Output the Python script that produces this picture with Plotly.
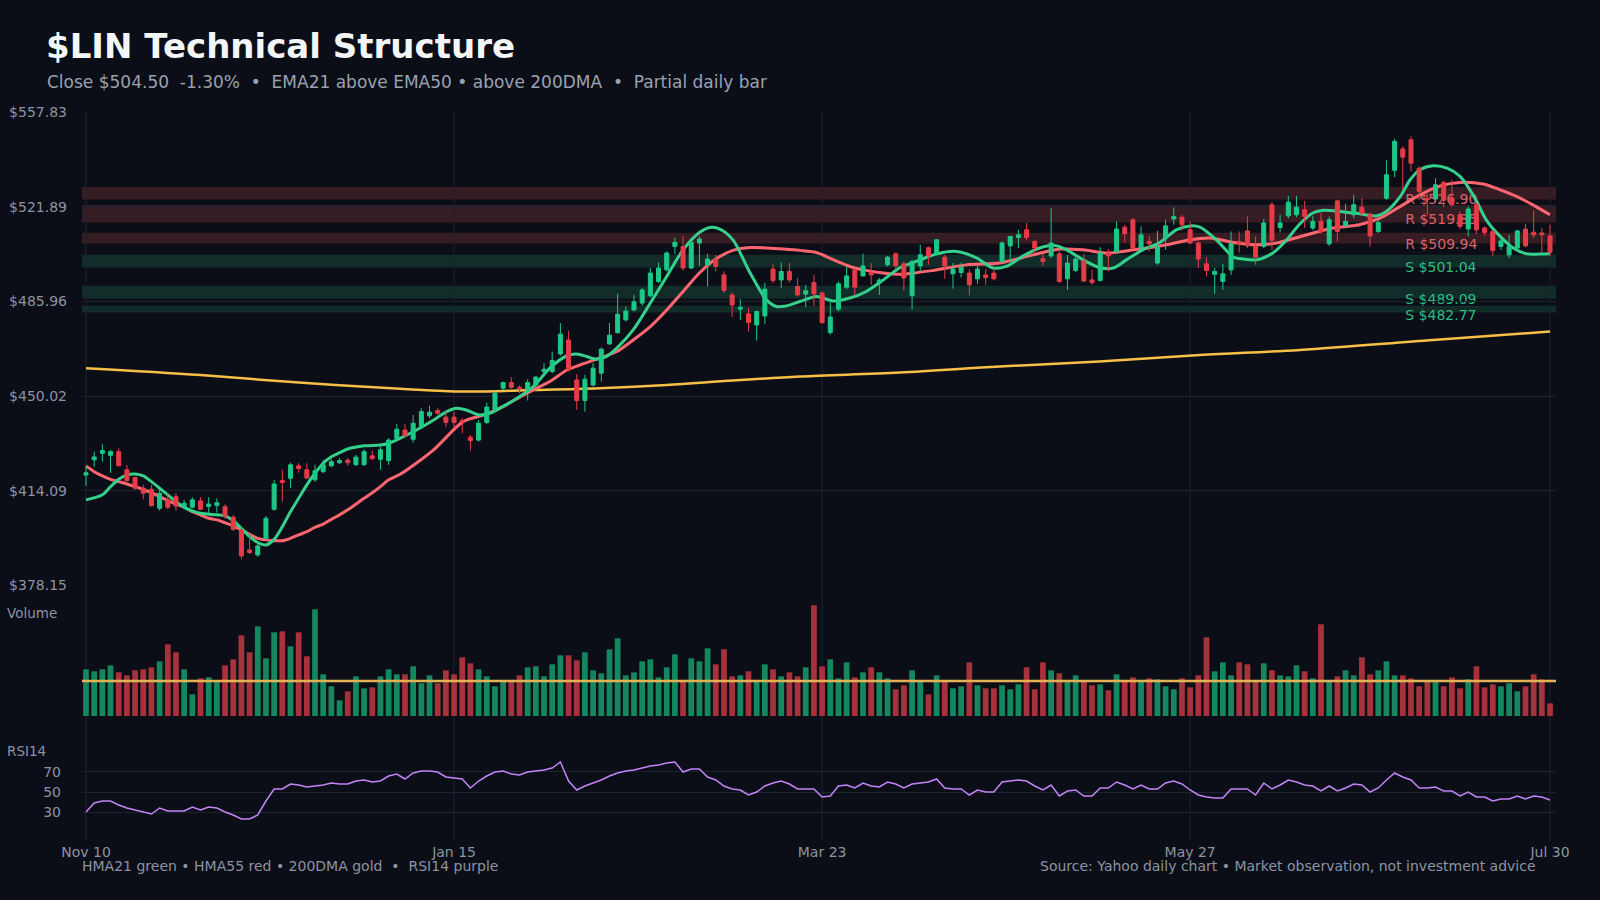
import plotly.graph_objects as go

# ---------------- data ----------------
x_tick_labels = ["Nov 10", "Jan 15", "Mar 23", "May 27", "Jul 30"]
x_tick_index = [0, 45, 90, 135, 179]

price_ticks = [378.15, 414.09, 450.02, 485.96, 521.89, 557.83]
price_tick_text = ["$378.15", "$414.09", "$450.02", "$485.96", "$521.89", "$557.83"]

opens = [420.0, 425.8, 428.3, 427.5, 428.9, 422.0, 419.1, 415.0, 414.6, 407.4,
         410.6, 411.8, 407.8, 407.8, 410.2, 408.1, 408.5, 408.0, 404.0, 399.2,
         391.6, 389.7, 396.0, 407.0, 417.9, 418.8, 423.5, 422.0, 418.2, 421.3,
         423.5, 424.7, 425.7, 423.9, 423.9, 427.3, 426.0, 425.5, 434.0, 437.1,
         433.6, 438.4, 442.5, 444.5, 442.0, 442.0, 440.7, 434.4, 433.3, 440.0,
         445.0, 453.0, 455.1, 453.3, 452.3, 454.2, 459.3, 459.3, 466.0, 471.3,
         456.1, 448.3, 454.2, 458.7, 469.8, 474.1, 478.9, 482.7, 485.3, 488.1,
         493.5, 497.9, 506.8, 506.8, 498.6, 508.1, 499.8, 502.0, 496.0, 488.4,
         483.0, 481.2, 477.0, 480.4, 498.2, 494.1, 497.3, 491.6, 488.7, 493.1,
         489.1, 474.1, 483.0, 491.3, 497.9, 495.6, 496.9, 492.9, 499.8, 504.0,
         500.2, 488.1, 499.4, 506.3, 504.0, 502.7, 496.4, 496.9, 496.7, 494.5,
         496.0, 496.7, 501.1, 507.0, 510.2, 513.1, 508.7, 502.1, 503.2, 504.0,
         494.5, 497.7, 501.3, 494.1, 493.9, 504.3, 504.9, 514.1, 516.9, 506.2,
         508.7, 500.5, 510.0, 517.2, 517.9, 513.1, 508.1, 500.2, 496.2, 493.5,
         497.9, 508.7, 512.7, 506.8, 506.8, 522.6, 514.0, 518.4, 518.8, 520.7,
         513.8, 516.4, 507.8, 524.1, 514.6, 518.8, 521.7, 518.8, 512.5, 525.1,
         535.7, 543.8, 547.3, 536.5, 525.1, 524.8, 531.1, 525.1, 518.8, 513.4,
         522.6, 513.8, 512.5, 506.8, 503.6, 506.2, 513.4, 512.2, 511.9, 510.8]
highs = [423.2, 428.9, 431.8, 429.6, 430.2, 423.9, 419.4, 416.3, 416.3, 414.4,
         413.1, 413.1, 410.6, 411.6, 411.6, 411.6, 411.2, 408.9, 404.9, 400.4,
         397.9, 394.1, 404.5, 418.2, 422.0, 424.7, 424.5, 424.5, 423.9, 425.8,
         426.0, 426.4, 426.4, 427.7, 429.8, 429.3, 430.8, 434.0, 439.4, 439.4,
         442.8, 445.4, 446.3, 445.4, 444.1, 444.1, 441.6, 435.2, 440.9, 447.5,
         451.7, 455.5, 457.2, 454.1, 456.4, 457.7, 462.5, 466.9, 477.7, 474.8,
         458.4, 458.0, 462.5, 468.5, 477.7, 488.8, 484.0, 488.4, 491.0, 498.6,
         500.7, 504.9, 510.1, 510.8, 509.1, 510.6, 504.0, 503.6, 497.3, 489.3,
         486.8, 483.4, 482.5, 492.9, 500.2, 500.7, 500.5, 494.8, 492.2, 496.0,
         489.7, 485.9, 493.5, 499.2, 498.6, 504.0, 500.5, 494.8, 503.2, 504.5,
         501.1, 501.7, 507.4, 506.8, 509.6, 503.6, 500.5, 500.7, 498.2, 499.4,
         498.2, 498.6, 508.7, 510.8, 513.1, 515.7, 509.3, 504.0, 521.3, 504.9,
         503.6, 503.2, 504.0, 497.9, 506.5, 505.8, 516.3, 515.0, 517.5, 514.4,
         510.8, 512.7, 516.9, 521.6, 518.8, 516.3, 508.7, 502.7, 498.6, 500.2,
         512.5, 512.5, 518.2, 510.6, 517.2, 523.5, 518.8, 526.0, 526.0, 524.1,
         518.4, 519.4, 518.2, 524.5, 523.0, 526.4, 525.1, 519.7, 516.9, 539.5,
         547.6, 544.8, 548.6, 537.2, 526.8, 532.7, 531.7, 532.1, 520.1, 522.0,
         523.3, 514.4, 512.9, 509.6, 511.2, 513.1, 515.4, 520.5, 513.8, 515.0]
lows = [415.9, 423.2, 425.1, 420.9, 423.2, 417.5, 414.4, 410.8, 408.0, 406.5,
        407.0, 406.5, 407.0, 407.4, 406.8, 405.5, 405.8, 403.6, 398.9, 388.0,
        390.0, 389.0, 395.4, 406.5, 409.9, 415.0, 420.9, 418.4, 417.5, 420.7,
        423.0, 424.2, 423.5, 423.5, 423.5, 425.7, 422.0, 423.9, 433.3, 434.6,
        432.3, 437.8, 441.6, 442.8, 438.2, 437.8, 435.9, 429.3, 432.7, 439.4,
        444.1, 452.3, 452.8, 451.1, 448.3, 453.3, 457.4, 458.7, 465.3, 459.3,
        444.7, 444.1, 453.6, 455.5, 469.4, 473.6, 478.3, 482.1, 484.3, 487.5,
        492.9, 497.3, 504.0, 497.7, 498.2, 499.4, 491.6, 497.3, 489.1, 480.0,
        478.9, 474.5, 471.1, 477.4, 492.9, 491.0, 493.1, 487.8, 483.7, 484.3,
        477.4, 473.3, 482.1, 490.6, 488.1, 495.4, 492.2, 488.4, 499.2, 497.9,
        490.1, 482.7, 497.3, 499.8, 503.6, 494.5, 490.8, 495.0, 488.2, 492.6,
        492.2, 493.9, 500.5, 501.1, 506.2, 509.1, 504.5, 499.4, 502.4, 492.9,
        490.3, 497.0, 493.2, 492.2, 493.5, 497.3, 504.3, 508.3, 505.8, 505.5,
        504.9, 499.8, 505.5, 515.0, 512.9, 507.8, 498.6, 495.4, 488.8, 490.3,
        496.0, 504.5, 506.2, 499.8, 506.2, 505.5, 512.1, 517.5, 517.9, 513.8,
        512.9, 511.6, 507.0, 508.7, 513.8, 517.5, 518.4, 506.8, 511.9, 524.5,
        533.1, 528.1, 535.3, 524.5, 518.8, 523.9, 521.7, 522.0, 513.4, 510.6,
        511.6, 510.8, 503.0, 505.5, 502.4, 505.3, 506.5, 510.0, 504.3, 503.0]
closes = [420.9, 426.9, 429.3, 428.9, 423.6, 417.9, 415.0, 413.1, 408.4, 413.1,
          407.8, 408.3, 409.3, 410.6, 407.0, 409.0, 409.5, 404.2, 399.4, 389.3,
          390.6, 393.1, 403.6, 416.6, 417.2, 423.9, 422.5, 418.9, 421.7, 423.9,
          425.1, 425.5, 424.7, 426.8, 428.9, 426.3, 429.6, 433.3, 437.4, 434.9,
          439.7, 444.1, 443.9, 443.5, 440.0, 440.0, 440.2, 433.1, 439.7, 445.8,
          451.1, 455.1, 453.3, 452.6, 455.1, 457.2, 460.2, 463.5, 473.5, 459.9,
          448.3, 456.4, 460.6, 467.8, 473.1, 481.1, 482.3, 485.8, 490.3, 496.7,
          498.6, 504.3, 508.4, 498.6, 508.3, 509.6, 502.0, 499.2, 490.1, 484.6,
          483.7, 477.9, 482.1, 490.6, 493.9, 497.3, 494.1, 488.4, 490.0, 488.8,
          477.9, 480.0, 492.6, 495.6, 491.3, 499.4, 496.0, 494.1, 502.7, 499.4,
          494.8, 501.1, 503.6, 503.2, 509.3, 499.4, 498.2, 498.9, 492.2, 498.2,
          495.0, 494.5, 508.1, 510.6, 511.2, 510.2, 506.2, 501.1, 508.1, 493.5,
          500.5, 502.0, 493.7, 493.1, 504.3, 503.2, 513.4, 511.6, 506.2, 511.2,
          507.8, 506.8, 514.6, 518.2, 515.0, 508.1, 502.0, 497.7, 497.3, 496.4,
          507.8, 507.8, 507.0, 502.7, 515.7, 509.1, 515.7, 523.6, 521.7, 518.2,
          516.3, 512.4, 516.9, 512.5, 516.3, 522.6, 519.4, 510.8, 515.9, 534.0,
          546.7, 540.7, 538.4, 527.7, 524.5, 530.2, 524.3, 522.6, 514.4, 521.0,
          513.1, 512.1, 505.3, 508.9, 506.8, 512.7, 507.0, 511.2, 511.2, 504.5]

volume_m = [2.80, 2.68, 2.80, 3.04, 2.62, 2.44, 2.74, 2.80, 2.92, 3.28,
            4.30, 3.82, 2.80, 1.30, 2.26, 2.32, 2.08, 3.04, 3.40, 4.84,
            3.82, 5.38, 3.46, 5.02, 5.08, 4.18, 5.02, 3.58, 6.40, 2.50,
            1.78, 0.94, 1.48, 2.38, 1.66, 1.72, 2.38, 2.80, 2.50, 2.50,
            2.98, 1.96, 2.44, 1.96, 2.74, 2.50, 3.52, 3.16, 2.80, 2.38,
            1.78, 2.08, 2.08, 2.44, 2.92, 2.98, 2.38, 3.10, 3.64, 3.64,
            3.34, 3.82, 2.74, 2.56, 4.00, 4.66, 2.44, 2.62, 3.28, 3.40,
            2.32, 2.92, 3.70, 2.04, 3.46, 3.28, 4.06, 3.10, 4.00, 2.38,
            2.44, 2.68, 2.08, 3.10, 2.80, 2.38, 2.62, 2.38, 2.92, 6.64,
            2.98, 3.40, 2.26, 3.22, 2.32, 2.62, 2.92, 2.62, 2.26, 1.60,
            1.84, 2.74, 2.04, 1.30, 2.44, 2.08, 1.66, 1.78, 3.22, 1.84,
            1.66, 1.66, 1.84, 1.60, 1.90, 2.92, 1.60, 3.22, 2.74, 2.56,
            2.08, 2.44, 2.08, 1.84, 1.90, 1.54, 2.50, 2.08, 2.32, 2.08,
            2.26, 2.20, 1.78, 1.60, 2.26, 1.72, 2.44, 4.72, 2.68, 3.22,
            2.44, 3.22, 3.10, 2.08, 3.16, 2.74, 2.44, 2.38, 3.04, 2.68,
            2.26, 5.50, 2.08, 2.38, 2.74, 2.44, 3.52, 2.50, 2.74, 3.28,
            2.44, 2.44, 2.26, 1.78, 2.08, 2.08, 1.78, 2.32, 1.66, 2.20,
            2.98, 1.72, 1.90, 1.78, 1.96, 1.48, 1.78, 2.50, 2.20, 0.76]
volume_avg_m = 2.1

rsi14 = [30, 39, 41, 41, 37, 34, 32, 30, 28, 34,
         31, 31, 31, 35, 32, 35, 34, 30, 27, 23,
         23, 27, 41, 53, 53, 58, 57, 55, 56, 57,
         59, 58, 58, 61, 62, 60, 61, 66, 68, 63,
         69, 71, 71, 70, 65, 64, 63, 54, 61, 66,
         70, 71, 68, 67, 70, 71, 72, 74, 80, 61,
         52, 56, 59, 62, 66, 69, 71, 72, 74, 76,
         77, 79, 80, 70, 73, 73, 65, 62, 56, 53,
         52, 47, 50, 56, 59, 61, 58, 53, 53, 53,
         45, 46, 56, 57, 54, 59, 56, 55, 60, 58,
         54, 58, 59, 60, 63, 54, 53, 53, 47, 52,
         50, 50, 60, 61, 62, 61, 56, 52, 57, 46,
         51, 52, 46, 46, 54, 54, 60, 57, 53, 57,
         53, 53, 59, 61, 58, 52, 47, 45, 44, 44,
         53, 53, 53, 47, 59, 53, 57, 62, 60, 57,
         56, 51, 56, 51, 54, 58, 57, 50, 54, 62,
         69, 65, 62, 54, 54, 55, 51, 51, 46, 50,
         45, 45, 41, 43, 43, 46, 43, 46, 45, 42]

hma21_x = [0, 2, 3, 4, 5, 6, 7, 8, 9, 10, 11, 12, 13, 14, 16, 17, 18, 19, 20, 21,
           22, 23, 24, 25, 26, 27, 28, 29, 30, 31, 32, 34, 36, 37, 38, 40.4, 42.5,
           44.1, 45.3, 46.5, 48.1, 49.4, 50.6, 52.7, 54.7, 56.7, 58.8, 60, 61.2,
           62.4, 63.6, 64.9, 66.9, 69, 71, 73, 75, 76.3, 77.5, 79.1, 81.2, 83.2,
           84.4, 85.6, 87.3, 89.3, 91.4, 93.4, 95.4, 97.5, 99.5, 101.5, 103.6,
           105.6, 107, 108.9, 110.9, 112.5, 114.6, 116.6, 118.3, 119.9, 121.9,
           123.9, 125.6, 127.2, 129.2, 131.3, 133.3, 135, 136.2, 138.2, 140.3,
           141.5, 143.1, 145.1, 146.8, 148.4, 150, 151.3, 153.3, 155.3, 157.8,
           159, 160.7, 161.9, 163.1, 164.7, 166.4, 168, 169.7, 171.2, 172.9,
           174.5, 176.1, 177.7, 179]
hma21_v = [410.6, 412.5, 415.6, 418.4, 420.1, 420.4, 419.7, 417.5, 415.0, 412.5,
           409.9, 407.8, 406.4, 405.5, 404.9, 404.5, 402.7, 399.8, 396.6, 394.4,
           393.5, 395.6, 400.4, 406.1, 411.2, 416.3, 420.7, 424.5, 427.0, 428.5,
           429.9, 431.1, 431.4, 432.1, 433.4, 437.1, 440.9, 444.1, 445.4, 444.7,
           442.8, 443.5, 445.4, 449.2, 453.6, 460.6, 465.3, 466.0, 465.0, 464.0,
           465.0, 468.2, 475.1, 485.3, 495.4, 505.5, 512.1, 514.0, 513.4, 509.3,
           496.7, 486.5, 484.0, 484.2, 485.9, 487.8, 486.1, 487.2, 489.7, 494.1,
           498.7, 501.1, 503.6, 504.9, 504.6, 502.4, 498.6, 499.2, 503.2, 506.2,
           507.2, 505.5, 501.7, 498.8, 498.6, 501.7, 505.5, 508.3, 513.1, 514.6,
           514.1, 509.3, 502.7, 502.0, 501.7, 504.3, 509.3, 515.3, 519.5, 520.5,
           520.1, 519.4, 518.4, 520.1, 525.8, 532.1, 535.9, 537.4, 536.5, 533.4,
           525.8, 516.9, 510.6, 506.2, 504.0, 503.9, 504.0]

hma55_x = [0, 1, 2, 3, 4, 5, 6, 7, 8, 9, 10, 11, 12, 13, 14, 15, 16, 17, 18, 19,
           20, 21, 22, 23, 24, 25, 26, 27, 28, 29, 30, 31, 32, 33, 34, 35, 36, 37,
           38.4, 42.5, 46.1, 48.6, 50.6, 53.9, 56.7, 58.8, 60.4, 62.8, 64.9, 66.9,
           69, 71, 73, 75, 77, 79.1, 81.2, 83.2, 85.3, 87.3, 89.3, 91.4, 93.4,
           95.4, 97.5, 99.5, 103.6, 107.6, 111.7, 115.8, 119.1, 121.9, 124.8,
           128.1, 132.1, 135, 137.4, 140.3, 143.1, 145.6, 148.4, 152.5, 155.7,
           158.2, 160.7, 163.1, 165.6, 168, 170.8, 172.9, 174.9, 176.9, 179]
hma55_v = [423.5, 421.3, 419.7, 418.4, 417.5, 416.6, 415.6, 414.6, 413.3, 411.8,
           410.3, 409.0, 407.8, 406.1, 404.9, 403.6, 403.0, 401.9, 400.7, 399.2,
           397.5, 396.0, 395.4, 395.1, 395.1, 396.0, 397.3, 398.5, 400.2, 401.4,
           403.2, 404.9, 406.8, 409.0, 411.2, 413.3, 415.6, 418.2, 420.3, 429.6,
           440.3, 442.8, 445.4, 451.1, 455.5, 459.9, 461.8, 464.4, 466.9, 471.3,
           476.4, 482.7, 489.7, 496.7, 502.0, 505.3, 506.4, 506.2, 505.8, 505.3,
           504.5, 501.7, 499.2, 497.7, 496.7, 496.2, 497.7, 499.8, 500.5, 503.6,
           505.8, 505.5, 504.3, 505.5, 507.4, 509.3, 510.0, 508.3, 507.4, 508.1,
           510.5, 513.8, 515.0, 517.5, 522.0, 526.4, 529.8, 531.1, 530.5, 528.3,
           525.8, 522.6, 518.8]

dma200_x = [0, 14, 26, 38.4, 46.1, 54.7, 62.8, 71, 79.1, 87.3, 99.5, 111.7,
            123.9, 136.2, 148.4, 164.7, 179]
dma200_v = [460.6, 458.0, 455.1, 452.8, 451.7, 452.3, 453.0, 454.2, 455.9, 457.4,
            458.9, 461.2, 463.1, 465.6, 467.5, 471.3, 474.5]

res_labels = ["R $526.90", "R $519.85", "R $509.94"]
res_levels = [526.90, 519.20, 509.94]
res_lo = [524.63, 515.89, 507.92]
res_hi = [529.34, 522.50, 511.98]
sup_labels = ["S $501.04", "S $489.09", "S $482.77"]
sup_levels = [501.04, 489.09, 482.77]
sup_lo = [498.80, 487.02, 481.70]
sup_hi = [503.62, 491.85, 484.25]

# ---------------- style ----------------
BG = "#0b0e16"
GRID = "#1d2231"
TICK = "#8b93a5"
UP = "#1dc887"
DN = "#e63c48"
VUP = "#14875e"
VDN = "#a8323b"
FONT = "DejaVu Sans"

idx = list(range(len(closes)))
vol_colors = [VUP if c >= o else VDN for o, c in zip(opens, closes)]

fig = go.Figure()

fig.add_trace(go.Scatter(x=dma200_x, y=dma200_v, mode="lines",
                         line=dict(color="#f5c045", width=2.5, shape="spline"),
                         hoverinfo="skip", showlegend=False))

cs_kwargs = dict(x=idx, open=opens, high=highs, low=lows, close=closes,
                 increasing=dict(line=dict(color=UP, width=1), fillcolor=UP),
                 decreasing=dict(line=dict(color=DN, width=1), fillcolor=DN),
                 whiskerwidth=0, showlegend=False, hoverinfo="skip")
try:
    fig.add_trace(go.Candlestick(zorder=1, **cs_kwargs))
except Exception:
    fig.add_trace(go.Candlestick(**cs_kwargs))

fig.add_trace(go.Scatter(x=hma55_x, y=hma55_v, mode="lines",
                         line=dict(color="#ff6670", width=3, shape="spline", smoothing=0.8),
                         hoverinfo="skip", showlegend=False))
fig.add_trace(go.Scatter(x=hma21_x, y=hma21_v, mode="lines",
                         line=dict(color="#35d08c", width=3, shape="spline", smoothing=0.8),
                         hoverinfo="skip", showlegend=False))

fig.add_trace(go.Bar(x=idx, y=volume_m, yaxis="y2", width=0.7,
                     marker=dict(color=vol_colors, line=dict(width=0)),
                     hoverinfo="skip", showlegend=False))

fig.add_trace(go.Scatter(x=idx, y=rsi14, yaxis="y3", mode="lines",
                         line=dict(color="#c384f8", width=1.5),
                         hoverinfo="skip", showlegend=False))

shapes = []
for lo, hi in zip(res_lo, res_hi):
    shapes.append(dict(type="rect", xref="paper", x0=0, x1=1, yref="y", y0=lo, y1=hi,
                       fillcolor="#361d23", line=dict(width=0), layer="below"))
for lo, hi in zip(sup_lo, sup_hi):
    shapes.append(dict(type="rect", xref="paper", x0=0, x1=1, yref="y", y0=lo, y1=hi,
                       fillcolor="#122c29", line=dict(width=0), layer="below"))
for t in x_tick_index:
    shapes.append(dict(type="line", xref="x", x0=t, x1=t, yref="paper", y0=0, y1=1,
                       line=dict(color=GRID, width=1), layer="below"))
shapes.append(dict(type="line", xref="paper", x0=0, x1=1, yref="y2",
                   y0=volume_avg_m, y1=volume_avg_m,
                   line=dict(color="#e2b254", width=2.5), layer="above"))

# level labels (drawn beneath the candles)
price_span = price_ticks[-1] - price_ticks[0]
label_drop = 4.5 * price_span / 473.0
label_x = 161.3
for txt, lv in zip(res_labels, res_levels):
    shapes.append(dict(type="line", xref="x", x0=label_x, x1=label_x + 0.01,
                       yref="y", y0=lv - label_drop, y1=lv - label_drop,
                       line=dict(color="rgba(0,0,0,0)", width=0), layer="below",
                       label=dict(text=txt, textposition="start", xanchor="left",
                                  yanchor="middle", padding=0,
                                  font=dict(color="#d9646c", size=14, family=FONT))))
for txt, lv in zip(sup_labels, sup_levels):
    shapes.append(dict(type="line", xref="x", x0=label_x, x1=label_x + 0.01,
                       yref="y", y0=lv - label_drop, y1=lv - label_drop,
                       line=dict(color="rgba(0,0,0,0)", width=0), layer="below",
                       label=dict(text=txt, textposition="start", xanchor="left",
                                  yanchor="middle", padding=0,
                                  font=dict(color="#2dbd84", size=14, family=FONT))))

annotations = [
    dict(text="<b>$LIN Technical Structure</b>", xref="paper", yref="paper",
         x=-0.0258, y=1.0904, xanchor="left", yanchor="middle", showarrow=False,
         font=dict(size=34, color="#f4f5f7", family=FONT)),
    dict(text="Close $504.50\u00a0\u00a0-1.30%\u00a0\u00a0\u2022\u00a0\u00a0EMA21 above EMA50 \u2022 above 200DMA\u00a0\u00a0\u2022\u00a0\u00a0Partial daily bar",
         xref="paper", yref="paper", x=-0.0251, y=1.0411, xanchor="left", yanchor="middle",
         showarrow=False, font=dict(size=17, color="#9aa2b2", family=FONT)),
    dict(text="Volume", xref="paper", yref="paper", x=-0.0522, y=0.3137,
         xanchor="left", yanchor="middle", showarrow=False,
         font=dict(size=13.5, color=TICK, family=FONT)),
    dict(text="RSI14", xref="paper", yref="paper", x=-0.0522, y=0.125,
         xanchor="left", yanchor="middle", showarrow=False,
         font=dict(size=13.5, color=TICK, family=FONT)),
    dict(text="HMA21 green \u2022 HMA55 red \u2022 200DMA gold\u00a0\u00a0\u2022\u00a0\u00a0RSI14 purple",
         xref="paper", yref="paper", x=-0.0014, y=-0.0329, xanchor="left", yanchor="middle",
         showarrow=False, font=dict(size=14, color=TICK, family=FONT)),
    dict(text="Source: Yahoo daily chart \u2022 Market observation, not investment advice",
         xref="paper", yref="paper", x=0.9877, y=-0.0329, xanchor="right", yanchor="middle",
         showarrow=False, font=dict(size=14, color=TICK, family=FONT)),
]

fig.update_layout(
    width=1600, height=900,
    paper_bgcolor=BG, plot_bgcolor=BG,
    margin=dict(l=82, r=44, t=112, b=58, autoexpand=False),
    font=dict(family=FONT, color=TICK, size=14),
    showlegend=False,
    bargap=0.3,
    shapes=shapes,
    annotations=annotations,
    xaxis=dict(domain=[0, 1], anchor="y3", range=[-0.49, 179.73], automargin=False,
               tickvals=x_tick_index, ticktext=x_tick_labels,
               showgrid=False, zeroline=False, showline=False, ticks="",
               tickfont=dict(size=14, color=TICK),
               rangeslider=dict(visible=False), fixedrange=True),
    yaxis=dict(domain=[0.3516, 1.0], range=[price_ticks[0], price_ticks[-1]],
               tickvals=price_ticks, ticktext=price_tick_text, automargin=False,
               showgrid=True, gridcolor=GRID, gridwidth=1, zeroline=False,
               showline=False, ticks="", ticklabelstandoff=14,
               tickfont=dict(size=14, color=TICK), fixedrange=True),
    yaxis2=dict(domain=[0.1726, 0.337], range=[0, 7.2], visible=False,
                automargin=False, fixedrange=True, anchor="x"),
    yaxis3=dict(domain=[0, 0.137], range=[0, 100], tickvals=[30, 50, 70],
                automargin=False,
                showgrid=True, gridcolor=GRID, gridwidth=1, zeroline=False,
                showline=False, ticks="", ticklabelstandoff=20,
                tickfont=dict(size=14, color=TICK), fixedrange=True, anchor="x"),
)

fig.write_html("out.html")
